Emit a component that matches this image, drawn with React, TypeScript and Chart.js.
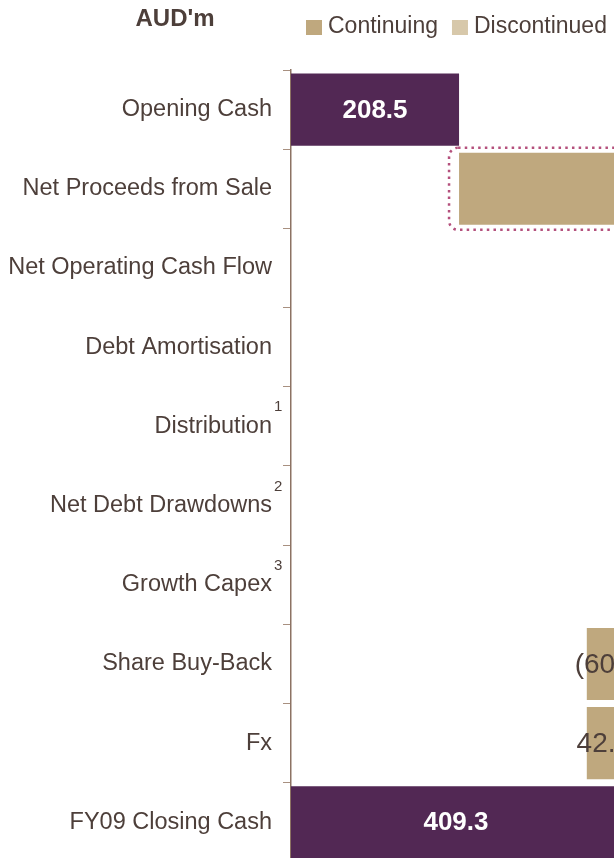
import React, { useEffect, useRef } from "react";
import { Chart, registerables } from "chart.js";

Chart.register(...registerables);

const categories = [
  "Opening Cash",
  "Net Proceeds from Sale",
  "Net Operating Cash Flow",
  "Debt Amortisation",
  "Distribution",
  "Net Debt Drawdowns",
  "Growth Capex",
  "Share Buy-Back",
  "Fx",
  "FY09 Closing Cash",
];
const footnotes = ["", "", "", "", "1", "2", "3", "", "", ""];
// cash balances (opening / closing)
const cashTotals: (number | null)[] = [208.5, null, null, null, null, null, null, null, null, 409.3];
// movements, continuing operations
const continuing: (number | null)[] = [null, 533.3, 36.2, -112.5, -95.2, 25.0, -180.4, -60.6, 42.3, null];
// movements, discontinued operations
const discontinued: (number | null)[] = [null, null, 12.7, null, null, null, null, null, null, null];
const axisMax = 1000;

const PURPLE = "#522854";
const CONT = "#BFA87E";
const DISC = "#D7C8AA";
const TEXT = "#4D3F3A";
const FONT = "'Liberation Sans', Arial, sans-serif";

function buildRanges() {
  const tot: ([number, number] | null)[] = [];
  const cont: ([number, number] | null)[] = [];
  const disc: ([number, number] | null)[] = [];
  let run = 0;
  for (let i = 0; i < categories.length; i++) {
    if (cashTotals[i] != null) {
      tot.push([0, cashTotals[i] as number]);
      cont.push(null);
      disc.push(null);
      run = cashTotals[i] as number;
      continue;
    }
    tot.push(null);
    const c = continuing[i];
    if (c != null) {
      cont.push([run, run + c]);
      run += c;
    } else cont.push(null);
    const d = discontinued[i];
    if (d != null) {
      disc.push([run, run + d]);
      run += d;
    } else disc.push(null);
  }
  return { tot, cont, disc };
}

function fmt(v: number) {
  const s = Math.abs(v).toFixed(1);
  return v < 0 ? `(${s})` : s;
}

const drawPlugin = {
  id: "waterfallDecor",
  afterDatasetsDraw(chart: any) {
    const ctx = chart.ctx;
    const area = chart.chartArea;
    const yScale = chart.scales.y;
    ctx.save();

    // dotted highlight around Net Proceeds from Sale
    const contMeta = chart.getDatasetMeta(1);
    const hl = contMeta.data[1];
    if (hl) {
      const l = Math.min(hl.x, hl.base) - 10;
      const r = Math.max(hl.x, hl.base) + 10;
      const t = hl.y - hl.height / 2 - 5;
      const b = hl.y + hl.height / 2 + 5;
      ctx.strokeStyle = "#B4507C";
      ctx.lineWidth = 2.5;
      ctx.setLineDash([2.5, 4.2]);
      ctx.beginPath();
      ctx.roundRect(l, t, r - l, b - t, 9);
      ctx.stroke();
      ctx.setLineDash([]);
    }

    // value labels
    const raw = [cashTotals, continuing, discontinued];
    chart.data.datasets.forEach((ds: any, di: number) => {
      const meta = chart.getDatasetMeta(di);
      meta.data.forEach((el: any, i: number) => {
        const v = raw[di][i];
        if (v == null || !ds.data[i]) return;
        const cx = (el.x + el.base) / 2;
        ctx.textAlign = "center";
        ctx.textBaseline = "middle";
        if (di === 0) {
          ctx.fillStyle = "#FFFFFF";
          ctx.font = `bold 26px ${FONT}`;
        } else {
          ctx.fillStyle = TEXT;
          ctx.font = `28px ${FONT}`;
        }
        ctx.fillText(fmt(v), cx, el.y + 1);
      });
    });

    // footnote superscripts on category labels
    ctx.fillStyle = TEXT;
    ctx.font = `15px ${FONT}`;
    ctx.textAlign = "left";
    ctx.textBaseline = "middle";
    footnotes.forEach((f, i) => {
      if (!f) return;
      const y = yScale.getPixelForValue(i);
      ctx.fillText(f, area.left - 17, y - 19);
    });

    // unit title
    ctx.font = `bold 24px ${FONT}`;
    ctx.textAlign = "center";
    ctx.fillText("AUD'm", 175, 19);

    // legend
    ctx.font = `23px ${FONT}`;
    ctx.textAlign = "left";
    let lx = 306;
    [1, 2].forEach((di) => {
      const ds = chart.data.datasets[di];
      ctx.fillStyle = ds.backgroundColor;
      ctx.fillRect(lx, 20, 16, 15);
      ctx.fillStyle = TEXT;
      ctx.fillText(ds.label, lx + 22, 27);
      lx += 22 + ctx.measureText(ds.label).width + 14;
    });

    ctx.restore();
  },
};

export default function App() {
  const ref = useRef<HTMLCanvasElement | null>(null);

  useEffect(() => {
    if (!ref.current) return;
    const { tot, cont, disc } = buildRanges();
    const chart = new Chart(ref.current, {
      type: "bar",
      data: {
        labels: categories,
        datasets: [
          { label: "Cash", data: tot as any, backgroundColor: PURPLE, grouped: false } as any,
          { label: "Continuing", data: cont as any, backgroundColor: CONT, grouped: false } as any,
          { label: "Discontinued", data: disc as any, backgroundColor: DISC, grouped: false } as any,
        ],
      },
      options: {
        indexAxis: "y",
        responsive: false,
        animation: false,
        layout: { padding: { top: 70, bottom: 18, left: 0, right: 0 } },
        datasets: { bar: { barPercentage: 0.91, categoryPercentage: 1 } },
        plugins: { legend: { display: false }, tooltip: { enabled: false }, title: { display: false } },
        scales: {
          x: { type: "linear", min: 0, max: axisMax, display: false },
          y: {
            type: "category",
            afterFit: (s: any) => {
              s.width = 291;
            },
            grid: {
              display: true,
              drawOnChartArea: false,
              drawTicks: true,
              tickLength: 8,
              color: "#A89080",
              offset: true,
            },
            border: { display: true, color: "#8C7263", width: 1.5 },
            ticks: {
              color: TEXT,
              padding: 11,
              font: { family: FONT, size: 23.5 },
            },
          },
        },
      },
      plugins: [drawPlugin],
    } as any);
    return () => chart.destroy();
  }, []);

  return (
    <div
      style={{
        position: "fixed",
        left: 0,
        top: 0,
        width: 614,
        height: 858,
        overflow: "hidden",
        background: "#fff",
      }}
    >
      <div style={{ width: 1097, height: 887 }}>
        <canvas ref={ref} width={1097} height={887} style={{ display: "block" }} />
      </div>
    </div>
  );
}
